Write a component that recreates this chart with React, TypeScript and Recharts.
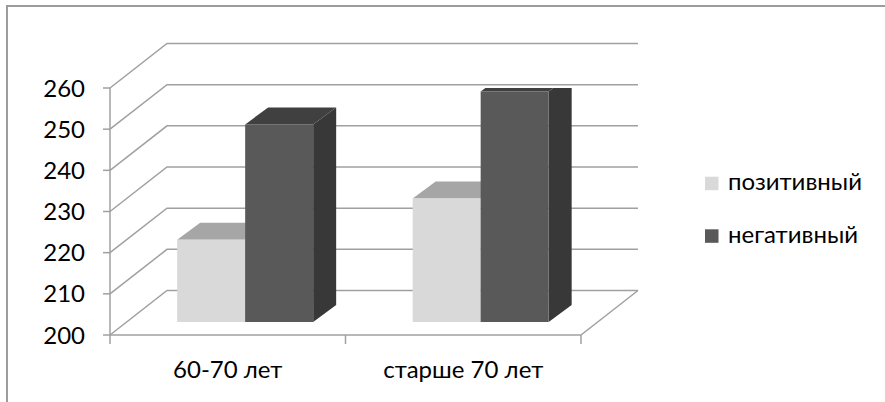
import React from 'react';
import { BarChart, Bar, XAxis, YAxis, CartesianGrid, Legend } from 'recharts';

// исходные данные диаграммы
const categories = ['60-70 лет', 'старше 70 лет'];
const positive = [220, 230];
const negative = [248, 256];
const yTicks = [200, 210, 220, 230, 240, 250, 260];
const seriesNames = ['позитивный', 'негативный'];

const FONT = 'Lato, "Open Sans", sans-serif';
const FONT_SIZE = 24;
const GRID = '#a0a0a0';

const W = 885;
const H = 402;
const MARGIN = { top: 88, right: 304, bottom: 0, left: 40 };
const Y_AXIS_W = 70;
const X_AXIS_H = 67;
const PLOT_LEFT = MARGIN.left + Y_AXIS_W;
const PLOT_RIGHT = W - MARGIN.right;
const PLOT_BOTTOM = H - MARGIN.bottom - X_AXIS_H;
const HALF_BAND = (PLOT_RIGHT - PLOT_LEFT) / categories.length / 2;

// глубина "3D" пола/стены и положение столбиков в глубине
const DEPTH_X = 57;
const DEPTH_Y = 44.5;
const BAR_SHIFT_X = 17;
const BAR_SHIFT_Y = 13;
const BAR_DX = 23;
const BAR_DY = 17;

const data = categories.map((name, i) => ({ name, pos: positive[i], neg: negative[i] }));

const makeBox = (topColor: string, sideColor: string) => (props: any) => {
  const { x, y, width, height, fill } = props;
  if (width == null || height == null) return null;
  const fx = x + BAR_SHIFT_X;
  const fy = y - BAR_SHIFT_Y;
  const top = `${fx},${fy} ${fx + BAR_DX},${fy - BAR_DY} ${fx + width + BAR_DX},${fy - BAR_DY} ${fx + width},${fy}`;
  const side = `${fx + width},${fy} ${fx + width + BAR_DX},${fy - BAR_DY} ${fx + width + BAR_DX},${fy + height - BAR_DY} ${fx + width},${fy + height}`;
  return (
    <g>
      <polygon points={side} fill={sideColor} />
      <polygon points={top} fill={topColor} />
      <rect x={fx} y={fy} width={width} height={height} fill={fill} />
    </g>
  );
};

const gridLine = (props: any) => {
  const { x1, x2, y1, key } = props;
  const isFloor = Math.abs(y1 - PLOT_BOTTOM) < 1;
  return (
    <g key={key}>
      <path
        d={`M${x1},${y1} L${x1 + DEPTH_X},${y1 - DEPTH_Y} L${x2 + DEPTH_X},${y1 - DEPTH_Y}`}
        fill="none"
        stroke={GRID}
        strokeWidth={1.5}
      />
      {isFloor && (
        <path d={`M${x2},${y1} L${x2 + DEPTH_X},${y1 - DEPTH_Y}`} fill="none" stroke={GRID} strokeWidth={1.5} />
      )}
    </g>
  );
};

const XTick = (props: any) => {
  const { x, y, payload, index } = props;
  return (
    <g>
      <line x1={x - HALF_BAND} y1={y} x2={x - HALF_BAND} y2={y + 9} stroke={GRID} strokeWidth={1.5} />
      {index === categories.length - 1 && (
        <line x1={x + HALF_BAND} y1={y} x2={x + HALF_BAND} y2={y + 9} stroke={GRID} strokeWidth={1.5} />
      )}
      <text x={x} y={y + 43} textAnchor="middle" fill="#000" fontFamily={FONT} fontSize={FONT_SIZE}>
        {payload.value}
      </text>
    </g>
  );
};

const renderLegend = (props: any) => {
  const items = [...(props.payload || [])].sort(
    (a: any, b: any) => seriesNames.indexOf(a.value) - seriesNames.indexOf(b.value)
  );
  return (
    <svg width={180} height={90} style={{ display: 'block', overflow: 'visible' }}>
      {items.map((it: any, i: number) => (
        <g key={it.value} transform={`translate(0, ${i * 52.6})`}>
          <rect x={5} y={1.7} width={13.5} height={13.5} fill={it.color} />
          <text x={28} y={15} fontFamily={FONT} fontSize={FONT_SIZE} fill="#000">
            {it.value}
          </text>
        </g>
      ))}
    </svg>
  );
};

export default function App() {
  return (
    <div style={{ position: 'absolute', left: 0, top: 0, width: W, height: H, overflow: 'hidden', background: '#fff' }}>
      <div
        style={{
          position: 'absolute',
          left: 6,
          top: 5,
          width: W + 20,
          height: H + 20,
          border: '2px solid #9c9c9c',
          boxSizing: 'border-box',
        }}
      />
      <div style={{ position: 'absolute', left: 0, top: 0 }}>
        <BarChart width={W} height={H} data={data} margin={MARGIN} barCategoryGap="21.3%" barGap={0}>
          <CartesianGrid horizontal={gridLine} vertical={false} />
          <XAxis
            dataKey="name"
            height={X_AXIS_H}
            axisLine={{ stroke: GRID, strokeWidth: 1.5 }}
            tickLine={false}
            tickSize={0}
            tickMargin={0}
            tick={<XTick />}
            interval={0}
          />
          <YAxis
            width={Y_AXIS_W}
            domain={[200, 260]}
            ticks={yTicks}
            allowDataOverflow
            axisLine={{ stroke: GRID, strokeWidth: 1.5 }}
            tickLine={{ stroke: GRID, strokeWidth: 1.5 }}
            tickSize={7}
            tickMargin={18}
            tick={{ fill: '#000', fontFamily: FONT, fontSize: FONT_SIZE }}
          />
          <Legend
            layout="vertical"
            align="center"
            verticalAlign="middle"
            wrapperStyle={{ left: 700, top: 175, width: 180, height: 90 }}
            content={renderLegend}
          />
          <Bar
            dataKey="pos"
            name={seriesNames[0]}
            fill="#d9d9d9"
            isAnimationActive={false}
            shape={makeBox('#a6a6a6', '#aeaeae')}
          />
          <Bar
            dataKey="neg"
            name={seriesNames[1]}
            fill="#595959"
            isAnimationActive={false}
            shape={makeBox('#404040', '#383838')}
          />
        </BarChart>
      </div>
    </div>
  );
}
